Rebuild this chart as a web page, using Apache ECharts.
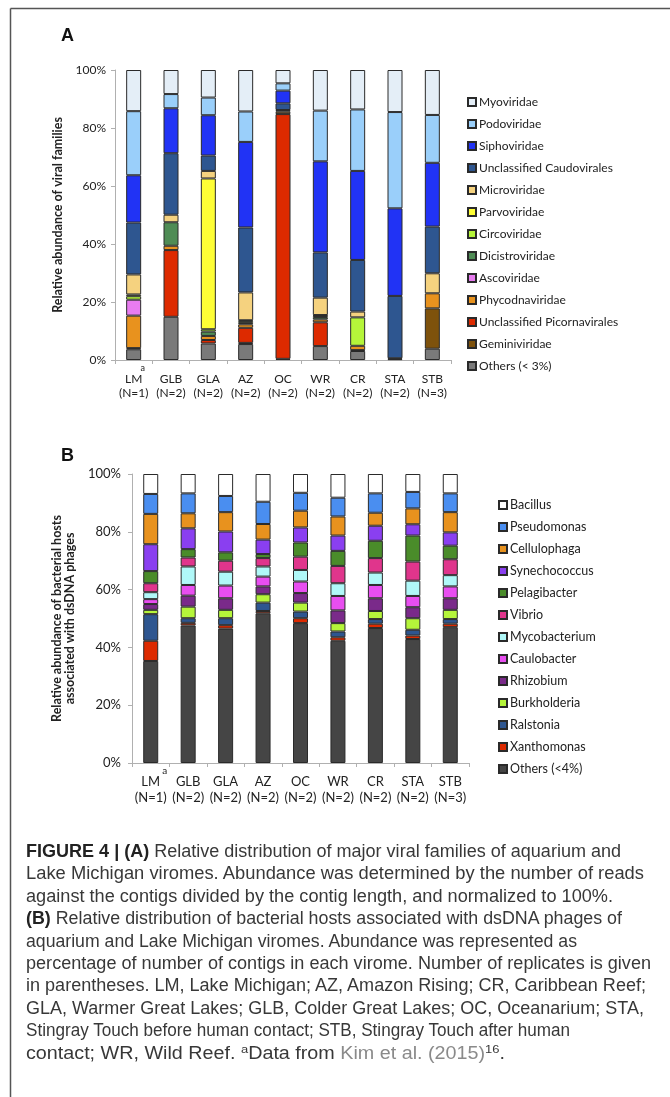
<!DOCTYPE html>
<html>
<head>
<meta charset="utf-8">
<script src="https://cdn.jsdelivr.net/npm/echarts@6/dist/echarts.min.js"></script>
<style>
html,body{margin:0;padding:0;background:#fff;}
#chart{position:absolute;left:0;top:0;width:670px;height:1097px;}
#cap{position:absolute;left:26px;top:840px;font-family:"Liberation Sans",Arial,sans-serif;font-size:17.5px;color:#383838;line-height:22.4px;}
#cap .ln{white-space:nowrap;transform-origin:0 50%;width:max-content;height:22.4px;}
#cap b{font-weight:bold;color:#222;}
#cap sup{font-size:11.5px;line-height:0;vertical-align:0;position:relative;top:-6px;}
#cap .lk{color:#8a8a8a;}
</style>
</head>
<body>
<div id="chart"></div>
<div id="cap">
<div class="ln" data-w="595"><b>FIGURE 4 | (A)</b> Relative distribution of major viral families of aquarium and</div>
<div class="ln" data-w="618">Lake Michigan viromes. Abundance was determined by the number of reads</div>
<div class="ln" data-w="587">against the contigs divided by the contig length, and normalized to 100%.</div>
<div class="ln" data-w="596"><b>(B)</b> Relative distribution of bacterial hosts associated with dsDNA phages of</div>
<div class="ln" data-w="551">aquarium and Lake Michigan viromes. Abundance was represented as</div>
<div class="ln" data-w="625">percentage of number of contigs in each virome. Number of replicates is given</div>
<div class="ln" data-w="620">in parentheses. LM, Lake Michigan; AZ, Amazon Rising; CR, Caribbean Reef;</div>
<div class="ln" data-w="618">GLA, Warmer Great Lakes; GLB, Colder Great Lakes; OC, Oceanarium; STA,</div>
<div class="ln" data-w="544">Stingray Touch before human contact; STB, Stingray Touch after human</div>
<div class="ln" data-w="479">contact; WR, Wild Reef. <sup>a</sup>Data from <span class="lk">Kim et al. (2015)</span><sup>16</sup>.</div>
</div>
<script>
// ---------- categories ----------
const sites = ['LM', 'GLB', 'GLA', 'AZ', 'OC', 'WR', 'CR', 'STA', 'STB'];
const replicates = ['(N=1)', '(N=2)', '(N=2)', '(N=2)', '(N=2)', '(N=2)', '(N=2)', '(N=2)', '(N=3)'];
const siteNotes = ['a', '', '', '', '', '', '', '', ''];
const yTicks = [0, 20, 40, 60, 80, 100];

// ---------- Panel A: viral families (% of reads) ----------
const aOthers      = [3.7, 14.9, 5.7, 5.5, 0.4, 4.8, 3.1, 0.3, 3.9];
const aGemini      = [0.4, 0, 0, 0.4, 0, 0, 0.3, 0, 13.9];
const aPicorna     = [0, 23.0, 1.2, 5.2, 84.4, 8.2, 0, 0, 0];
const aPhycodna    = [11.2, 1.5, 1.4, 1.2, 0.8, 1.0, 1.5, 0.3, 5.2];
const aAsco        = [5.5, 0, 0, 0, 0, 0, 0, 0, 0];
const aDicistro    = [0, 8.1, 1.5, 0.5, 0, 0.8, 0, 0, 0];
const aCirco       = [1.2, 0, 0.8, 0.6, 0, 0.5, 9.8, 0, 0];
const aParvo       = [0.6, 0, 52.0, 0.3, 0, 0.2, 0, 0, 0];
const aMicro       = [6.9, 2.6, 2.6, 9.6, 0.6, 6.0, 2.0, 0, 6.9];
const aCaudo       = [17.9, 21.2, 5.3, 22.4, 2.3, 15.6, 17.8, 21.5, 16.1];
const aSipho       = [16.3, 15.5, 13.9, 29.5, 4.4, 31.4, 30.7, 30.2, 22.0];
const aPodo        = [22.1, 4.9, 6.1, 10.5, 2.5, 17.5, 21.2, 33.2, 16.5];
const aMyo         = [14.2, 8.3, 9.5, 14.3, 4.6, 14.0, 13.6, 14.5, 15.5];

// ---------- Panel B: bacterial hosts (% of contigs) ----------
const bOthers      = [35.3, 47.6, 46.5, 51.8, 48.4, 42.3, 46.7, 42.9, 47.0];
const bXantho      = [7.0, 0.9, 1.2, 0.8, 1.7, 1.2, 1.5, 1.2, 1.2];
const bRalstonia   = [9.2, 1.6, 2.4, 2.9, 2.3, 2.0, 1.6, 2.0, 1.6];
const bBurk        = [1.5, 4.0, 2.9, 2.9, 3.1, 2.9, 2.8, 4.0, 3.2];
const bRhizo       = [2.0, 3.8, 4.0, 2.7, 3.3, 4.4, 4.4, 3.8, 4.0];
const bCaulo       = [1.7, 3.7, 4.4, 3.4, 4.0, 5.0, 4.6, 3.9, 4.1];
const bMyco        = [2.4, 6.4, 4.8, 3.5, 4.0, 4.4, 4.3, 5.3, 3.9];
const bVibrio      = [3.1, 3.1, 3.8, 2.9, 4.6, 6.0, 5.0, 6.6, 5.5];
const bPelagi      = [4.2, 2.9, 2.9, 1.4, 4.9, 5.2, 6.0, 9.0, 4.7];
const bSynecho     = [9.3, 7.2, 7.2, 5.0, 5.2, 5.3, 5.2, 3.9, 4.6];
const bCellulo     = [10.5, 5.2, 6.7, 5.4, 5.8, 6.6, 4.5, 5.5, 7.0];
const bPseudo      = [6.9, 6.9, 5.6, 7.7, 6.2, 6.5, 6.7, 5.7, 6.5];
const bBacillus    = [6.9, 6.7, 7.6, 9.6, 6.5, 8.2, 6.7, 6.2, 6.7];

// names (stack order bottom -> top)
const namesA = ['Others (< 3%)', 'Geminiviridae', 'Unclassified Picornavirales', 'Phycodnaviridae', 'Ascoviridae',
  'Dicistroviridae', 'Circoviridae', 'Parvoviridae', 'Microviridae', 'Unclassified Caudovirales',
  'Siphoviridae', 'Podoviridae', 'Myoviridae'];
const dataA = [aOthers, aGemini, aPicorna, aPhycodna, aAsco, aDicistro, aCirco, aParvo, aMicro, aCaudo, aSipho, aPodo, aMyo];
const colorsA = ['#7a7a7a', '#7e520c', '#dd2a00', '#e8921e', '#e87cf0', '#4f8c55', '#b5f53a', '#fefe35',
  '#f5d27f', '#2e5690', '#2133f5', '#9acffa', '#e4eef7'];

const namesB = ['Others (<4%)', 'Xanthomonas', 'Ralstonia', 'Burkholderia', 'Rhizobium', 'Caulobacter',
  'Mycobacterium', 'Vibrio', 'Pelagibacter', 'Synechococcus', 'Cellulophaga', 'Pseudomonas', 'Bacillus'];
const dataB = [bOthers, bXantho, bRalstonia, bBurk, bRhizo, bCaulo, bMyco, bVibrio, bPelagi, bSynecho, bCellulo, bPseudo, bBacillus];
const colorsB = ['#454545', '#dd2a00', '#2e5690', '#b5f53a', '#7a2a8a', '#e84ef0', '#b0f8f8', '#e0358c',
  '#4a8c2a', '#8a3ff0', '#e8921e', '#4a8ef0', '#ffffff'];

const FONT = 'Lato, "Open Sans", sans-serif';
const AXIS_C = '#b0b0b0';

function mkSeries(names, data, colors, idx) {
  return names.map((n, i) => ({
    name: n,
    type: 'bar',
    stack: 'p' + idx,
    xAxisIndex: idx,
    yAxisIndex: idx,
    barWidth: 15,
    data: data[i].map(v => (v > 0 ? v : null)),
    itemStyle: { color: colors[i], borderColor: '#2a2a2a', borderWidth: 1 },
    emphasis: { disabled: true },
    animation: false
  }));
}

function xAxisFor(idx, fs, lhs) {
  return {
    gridIndex: idx,
    type: 'category',
    data: sites,
    axisLine: { lineStyle: { color: AXIS_C } },
    axisTick: { show: true, length: 4, lineStyle: { color: AXIS_C } },
    axisLabel: {
      interval: 0,
      margin: lhs.margin,
      fontFamily: FONT,
      fontSize: fs,
      color: '#222',
      formatter: (v, i) => '{s|' + (siteNotes[i] || ' ') + '}\n{m|' + v + '}\n{n|' + replicates[i] + '}',
      rich: {
        s: { fontFamily: FONT, fontSize: fs - 3, color: '#222', lineHeight: lhs.s, padding: [0, 0, 0, lhs.pad] },
        m: { fontFamily: FONT, fontSize: fs, color: '#222', lineHeight: lhs.m },
        n: { fontFamily: FONT, fontSize: fs, color: '#222', lineHeight: lhs.n }
      }
    }
  };
}

function yAxisFor(idx, fs, name, nameGap, nfs, margin) {
  return {
    gridIndex: idx,
    type: 'value',
    min: yTicks[0],
    max: yTicks[yTicks.length - 1],
    interval: yTicks[1] - yTicks[0],
    name: name,
    nameLocation: 'middle',
    nameGap: nameGap,
    nameTextStyle: { fontFamily: FONT, fontWeight: 'bold', fontSize: nfs, color: '#222', lineHeight: nfs + 1 },
    axisLine: { show: true, lineStyle: { color: AXIS_C } },
    axisTick: { show: true, length: 4, lineStyle: { color: AXIS_C } },
    splitLine: { show: false },
    axisLabel: { formatter: '{value}%', fontFamily: FONT, fontSize: fs, color: '#222', margin: margin }
  };
}

const chart = echarts.init(document.getElementById('chart'), null, { renderer: 'canvas' });
chart.setOption({
  animation: false,
  backgroundColor: '#ffffff',
  grid: [
    { left: 115, top: 70, width: 336, height: 290 },
    { left: 132, top: 474, width: 337, height: 289 }
  ],
  xAxis: [
    xAxisFor(0, 12, { margin: 4, s: 9, m: 13, n: 14, pad: 18 }),
    xAxisFor(1, 13, { margin: 4, s: 8, m: 14, n: 17, pad: 28 })
  ],
  yAxis: [
    yAxisFor(0, 12, 'Relative abundance of viral families', 42, 12.5, 9),
    yAxisFor(1, 13, 'Relative abundance of bacterial hosts\nassociated with dsDNA phages', 49, 12.5, 11)
  ],
  legend: [
    {
      orient: 'vertical', left: 462, top: 90, itemWidth: 8, itemHeight: 8, itemGap: 8,
      icon: 'rect', selectedMode: false,
      textStyle: { fontFamily: FONT, fontSize: 12, color: '#222', lineHeight: 14, padding: [0, 0, 0, -2] },
      data: namesA.slice().reverse()
    },
    {
      orient: 'vertical', left: 493, top: 493, itemWidth: 8, itemHeight: 8, itemGap: 8,
      icon: 'rect', selectedMode: false,
      textStyle: { fontFamily: FONT, fontSize: 12.5, color: '#222', lineHeight: 14, padding: [0, 0, 0, -2] },
      data: namesB.slice().reverse()
    }
  ],
  graphic: [
    { type: 'line', silent: true, shape: { x1: 10.5, y1: 8.5, x2: 670, y2: 8.5 }, style: { stroke: '#555', lineWidth: 1.5 } },
    { type: 'line', silent: true, shape: { x1: 10.5, y1: 8.5, x2: 10.5, y2: 1097 }, style: { stroke: '#555', lineWidth: 1.5 } },
    { type: 'text', left: 61, top: 27, style: { text: 'A', fontFamily: '"Liberation Sans", Arial, sans-serif', fontWeight: 'bold', fontSize: 18, fill: '#111' } },
    { type: 'text', left: 61, top: 447, style: { text: 'B', fontFamily: '"Liberation Sans", Arial, sans-serif', fontWeight: 'bold', fontSize: 18, fill: '#111' } }
  ],
  series: mkSeries(namesA, dataA, colorsA, 0).concat(mkSeries(namesB, dataB, colorsB, 1))
});

// fit each caption line to the width it has in the printed figure
document.querySelectorAll('#cap .ln').forEach(el => {
  const w = el.getBoundingClientRect().width;
  const t = parseFloat(el.getAttribute('data-w'));
  if (w > 0 && t > 0) el.style.transform = 'scaleX(' + (t / w).toFixed(4) + ')';
});
</script>
</body>
</html>
